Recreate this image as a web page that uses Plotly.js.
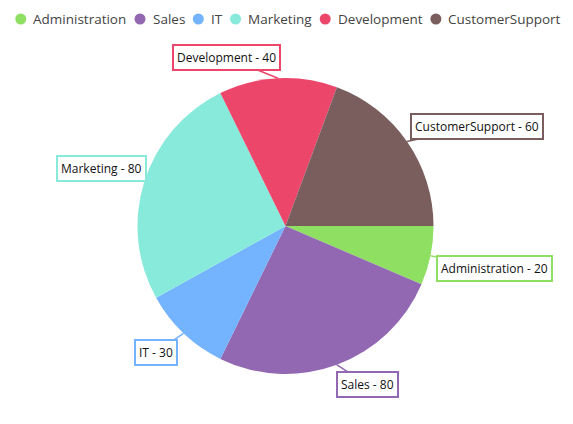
<!DOCTYPE html>
<html><head><meta charset="utf-8">
<script src="https://cdn.plot.ly/plotly-3.0.1.min.js"></script>
<style>html,body{margin:0;padding:0;background:#fff}#chart{width:573px;height:424px}</style>
</head><body><div id="chart"></div>
<script>
const categories = ['Administration', 'Sales', 'IT', 'Marketing', 'Development', 'CustomerSupport'];
const values = [20, 80, 30, 80, 40, 60];
const colors = ['#8fe062', '#9168b1', '#74b4fe', '#88eadb', '#ec466b', '#7a5e5e'];

// label box offsets from slice edge (pixels) — style only
const labelOffsets = [[64, 13], [31, 20], [-28, 19], [-43, -13], [-52, -21], [70, -15]];

const W = 573, H = 424;
const cx = 285.5, cy = 226, R = 148;
const domX = [(cx - R) / W, (cx + R) / W];
const domY = [(H - cy - R) / H, (H - cy + R) / H];

const total = values.reduce((a, b) => a + b, 0);
let cum = 0;
const annotations = categories.map((c, i) => {
  const mid = (cum + values[i] / 2) / total * 2 * Math.PI;
  cum += values[i];
  const px = cx + R * Math.cos(mid), py = cy + R * Math.sin(mid);
  return {
    xref: 'paper', yref: 'paper', x: px / W, y: 1 - py / H,
    ax: labelOffsets[i][0], ay: labelOffsets[i][1],
    text: c + ' - ' + values[i],
    showarrow: true, arrowhead: 0, arrowwidth: 1.5, arrowcolor: colors[i],
    bordercolor: colors[i], borderwidth: 2, borderpad: 3, bgcolor: '#fff',
    font: { family: 'Open Sans, sans-serif', size: 12, color: '#111' }
  };
});

// custom horizontal legend (circle + text), laid out from measured text widths
const legFont = 'Open Sans';
const legSize = 13.5;
const ctx = document.createElement('canvas').getContext('2d');
ctx.font = legSize + 'px "' + legFont + '"';
const dotR = 5.5, dotGap = 6, itemGap = 9, legY = 19;
const widths = categories.map(c => ctx.measureText(c).width);
const totalLeg = widths.reduce((s, w) => s + 2 * dotR + dotGap + w, 0) + itemGap * (categories.length - 1);
let lx = W / 2 - totalLeg / 2 + 1;
const shapes = [];
categories.forEach((c, i) => {
  shapes.push({
    type: 'circle', xref: 'paper', yref: 'paper',
    x0: lx / W, x1: (lx + 2 * dotR) / W,
    y0: 1 - (legY + dotR) / H, y1: 1 - (legY - dotR) / H,
    fillcolor: colors[i], line: { width: 0 }
  });
  lx += 2 * dotR + dotGap;
  annotations.push({
    xref: 'paper', yref: 'paper', x: (lx - 1) / W, y: 1 - legY / H,
    xanchor: 'left', yanchor: 'middle', showarrow: false, text: c,
    font: { family: legFont, size: legSize, color: '#444' }
  });
  lx += widths[i] + itemGap;
});

const data = [{
  type: 'pie', labels: categories, values: values,
  marker: { colors: colors, line: { width: 0 } },
  sort: false, direction: 'clockwise', rotation: 90,
  textinfo: 'none', hoverinfo: 'none', showlegend: false,
  domain: { x: domX, y: domY }
}];

const layout = {
  width: W, height: H,
  margin: { l: 0, r: 0, t: 0, b: 0 },
  paper_bgcolor: '#fff', plot_bgcolor: '#fff',
  showlegend: false,
  annotations: annotations,
  shapes: shapes
};

Plotly.newPlot('chart', data, layout, { displayModeBar: false, staticPlot: true });
</script></body></html>
